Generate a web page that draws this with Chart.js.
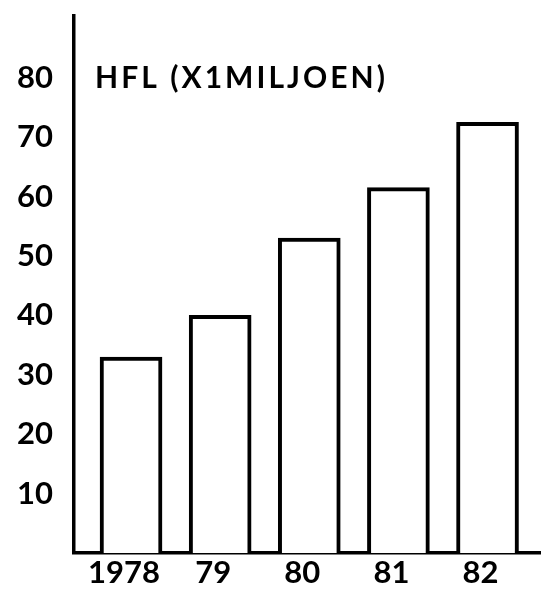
<!doctype html>
<html lang="nl">
<head>
  <meta charset="utf-8">
  <title>HFL (X1MILJOEN)</title>
  <style>
    * { margin: 0; padding: 0; }
    body { background: white; }
    #myChart { display: block; }
  </style>
</head>
<body>
  <canvas id="myChart" width="541" height="589"></canvas>

  <script src="https://cdn.jsdelivr.net/npm/chart.js"></script>
  <script>
    // data
    const years = ['1978', '79', '80', '81', '82'];
    const hfl = [33, 40, 53, 61.5, 72.5];
    const yTicks = [10, 20, 30, 40, 50, 60, 70, 80];
    const titleText = 'HFL (X1MILJOEN)';

    // title written inside the plot, next to the 80 tick
    const titlePlugin = {
      id: 'innerTitle',
      afterDraw(chart) {
        const ctx = chart.ctx;
        const y = chart.scales.y.getPixelForValue(80);
        ctx.save();
        ctx.font = 'bold 30px Lato';
        // stretch the title to about 290px like the original lettering
        const w = ctx.measureText(titleText).width;
        ctx.letterSpacing = ((290 - w) / (titleText.length - 1)) + 'px';
        ctx.fillStyle = 'black';
        ctx.textBaseline = 'middle';
        ctx.fillText(titleText, chart.chartArea.left + 21, y + 1);
        ctx.restore();
      }
    };

    const tickFont = { family: 'Lato', size: 31, weight: 'bold' };

    const config = {
      type: 'bar',
      data: {
        datasets: [{
          data: hfl.map((v, i) => ({ x: i, y: v })),
          backgroundColor: 'white',
          borderColor: 'black',
          borderWidth: 4,
          barThickness: 62
        }]
      },
      options: {
        responsive: false,
        animation: false,
        devicePixelRatio: 1,
        layout: { padding: { top: 16, left: 0, right: 0, bottom: 0 } },
        plugins: {
          legend: { display: false },
          tooltip: { enabled: false }
        },
        scales: {
          x: {
            type: 'linear',
            offset: false,
            min: -0.64,
            max: 4.6,
            grid: { display: false, drawTicks: false, offset: false },
            border: { display: true, color: 'black', width: 3.5 },
            afterBuildTicks: (s) => { s.ticks = years.map((_, i) => ({ value: i })); },
            afterFit: (s) => {
              s.height = 36;
              s.paddingLeft = 0;
              s.paddingRight = 0;
            },
            ticks: {
              color: 'black',
              font: tickFont,
              padding: 1,
              labelOffset: -7,
              maxRotation: 0,
              callback: (v) => years[v]
            }
          },
          y: {
            min: 0,
            max: 90.4,
            grid: { display: false, drawTicks: false },
            border: { display: true, color: 'black', width: 3.5 },
            afterBuildTicks: (s) => { s.ticks = yTicks.map(v => ({ value: v })); },
            afterFit: (s) => {
              s.width = 74;
              s.paddingTop = 0;
              s.paddingBottom = 0;
            },
            ticks: {
              color: 'black',
              font: tickFont,
              padding: 21
            }
          }
        }
      },
      plugins: [titlePlugin]
    };

    const myChart = new Chart(document.getElementById('myChart'), config);
  </script>
</body>
</html>
